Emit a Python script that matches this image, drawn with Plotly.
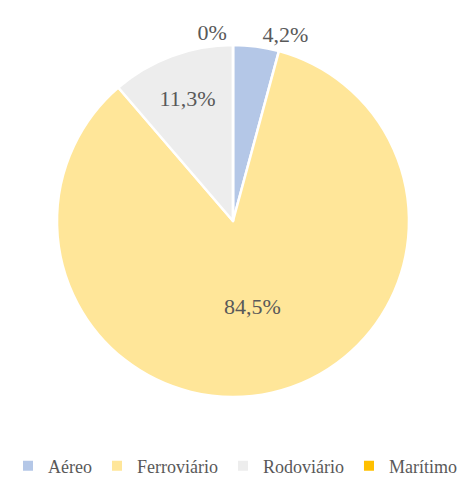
import plotly.graph_objects as go

categories = ["Aéreo", "Ferroviário", "Rodoviário", "Marítimo"]
values = [4.2, 84.5, 11.3, 0]
colors = ["#B4C7E7", "#FFE699", "#EDEDED", "#FFC000"]
text_pos = ["outside", "inside", "inside", "outside"]

def fmt(v):
    s = ("%.1f" % v).replace(".", ",")
    return "0%" if v == 0 else s + "%"

labels_txt = [fmt(v) for v in values]

FONT = "Liberation Serif"
W, H = 465, 491
off = 8  # page body margin
cx, cy, r = 233 - off, 221 - off, 176

fig = go.Figure(go.Pie(
    labels=categories,
    values=values,
    text=labels_txt,
    texttemplate="%{text}",
    textposition=text_pos,
    sort=False,
    direction="clockwise",
    rotation=0,
    marker=dict(colors=colors, line=dict(color="white", width=2.5)),
    textfont=dict(family=FONT, size=22, color="#595959"),
    insidetextorientation="horizontal",
    showlegend=True,
    hoverinfo="label+percent",
    domain=dict(x=[(cx - r) / W, (cx + r) / W], y=[1 - (cy + r) / H, 1 - (cy - r) / H]),
))

fig.update_layout(
    width=W, height=H,
    margin=dict(l=0, r=0, t=0, b=0),
    paper_bgcolor="white",
    plot_bgcolor="white",
    font=dict(family=FONT, color="#595959", size=18),
    legend=dict(orientation="h", x=(233 - off) / W, xanchor="center", y=1 - (466 - off) / H, yanchor="middle",
                font=dict(family=FONT, size=18, color="#595959"), itemsizing="constant",
                itemwidth=30, tracegroupgap=0),
)

fig.write_html("out.html")
